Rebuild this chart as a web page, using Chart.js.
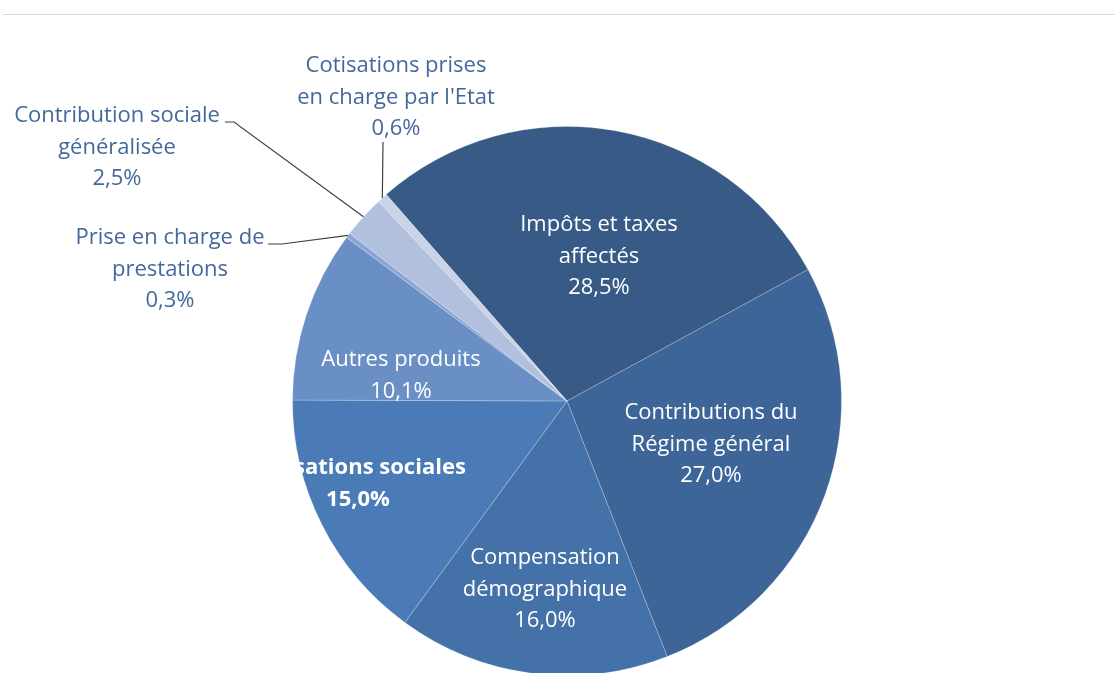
<!DOCTYPE html>
<html>
<head>
<meta charset="utf-8">
<script src="https://cdn.jsdelivr.net/npm/chart.js@4/dist/chart.umd.min.js"></script>
<style>
    html, body { margin: 0; padding: 0; background: #fff; overflow: hidden; }
    body { width: 1115px; height: 673px; position: relative; }
    .rule { position: absolute; left: 3px; right: 0; top: 14px; height: 1px; background: #d9d9d9; }
    #wrap { position: absolute; left: 0; top: 0; width: 1115px; height: 680px; }
</style>
</head>
<body>
<div class="rule"></div>
<div id="wrap"><canvas id="pie"></canvas></div>
<script>
// slices, clockwise from the "Impôts" slice
const labels = [
    ["Impôts et taxes", "affectés"],
    ["Contributions du", "Régime général"],
    ["Compensation", "démographique"],
    ["Cotisations sociales"],
    ["Autres produits"],
    ["Prise en charge de", "prestations"],
    ["Contribution sociale", "généralisée"],
    ["Cotisations prises", "en charge par l'Etat"]
];
const shares = [28.5, 27.0, 16.0, 15.0, 10.1, 0.3, 2.5, 0.6];
const colors = ["#375a87", "#3d6598", "#4472a8", "#4a7bb7", "#6a8fc4", "#8ca6d3", "#b0c0dd", "#c9d2e7"];

// where each label block sits (centre x, first line y) + leader line start
const labelSpots = [
    { x: 599, y: 225, inside: true },
    { x: 711, y: 413, inside: true },
    { x: 545, y: 558, inside: true },
    { x: 358, y: 468, inside: true, bold: true, clipLeft: 297 },
    { x: 401, y: 360, inside: true },
    { x: 170, y: 238, inside: false, lead: [[268, 244], [282, 244]] },
    { x: 117, y: 116, inside: false, lead: [[225, 122], [234, 122]] },
    { x: 396, y: 66, inside: false, lead: [[383, 142]] }
];

const fmt = v => v.toFixed(1).replace(".", ",") + "%";

const sliceLabels = {
    id: "sliceLabels",
    afterDatasetsDraw(chart) {
        const ctx = chart.ctx;
        const arcs = chart.getDatasetMeta(0).data;
        ctx.save();
        ctx.textAlign = "center";
        ctx.textBaseline = "middle";
        arcs.forEach((arc, i) => {
            const spot = labelSpots[i];
            const lines = labels[i].concat([fmt(shares[i])]);

            if (spot.lead) {
                // leader ends on the outer edge, mid-angle of the slice
                const mid = (arc.startAngle + arc.endAngle) / 2;
                const ex = arc.x + Math.cos(mid) * arc.outerRadius;
                const ey = arc.y + Math.sin(mid) * arc.outerRadius;
                ctx.beginPath();
                ctx.strokeStyle = "#404040";
                ctx.lineWidth = 1.2;
                ctx.moveTo(spot.lead[0][0], spot.lead[0][1]);
                spot.lead.slice(1).forEach(p => ctx.lineTo(p[0], p[1]));
                ctx.lineTo(ex, ey);
                ctx.stroke();
            }

            ctx.save();
            if (spot.clipLeft) {
                ctx.beginPath();
                ctx.rect(spot.clipLeft, 0, chart.width, chart.height);
                ctx.clip();
            }
            ctx.fillStyle = spot.inside ? "#ffffff" : "#44689c";
            ctx.font = (spot.bold ? "bold " : "") + "22px 'Open Sans', sans-serif";
            lines.forEach((t, k) => ctx.fillText(t, spot.x, spot.y + k * 31.5));
            ctx.restore();
        });
        ctx.restore();
    }
};

new Chart(document.getElementById("pie"), {
    type: "pie",
    data: {
        labels: labels.map(l => l.join(" ")),
        datasets: [{
            data: shares,
            backgroundColor: colors,
            borderColor: "rgba(255, 255, 255, 0.22)",
            borderWidth: 1
        }]
    },
    options: {
        responsive: true,
        maintainAspectRatio: false,
        animation: false,
        rotation: -41.2,
        layout: {
            padding: { top: 126, bottom: 4, left: 292, right: 273 }
        },
        plugins: {
            legend: { display: false },
            tooltip: { enabled: false }
        }
    },
    plugins: [sliceLabels]
});
</script>
</body>
</html>
